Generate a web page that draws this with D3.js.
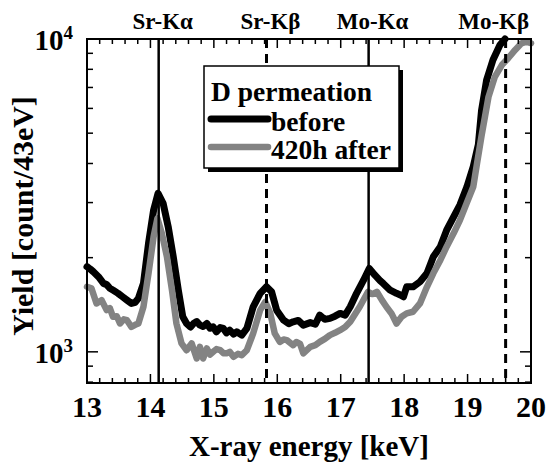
<!DOCTYPE html>
<html><head><meta charset="utf-8">
<script src="https://cdn.jsdelivr.net/npm/d3@7"></script>
<style>body{margin:0;background:#fff}svg{display:block}text{font-family:"Liberation Serif","Times New Roman",serif;font-weight:bold}</style>
</head><body>
<svg id="c" width="547" height="462"></svg>
<script>
// ---- data ----
const beforeE = [13.00,13.05,13.10,13.18,13.26,13.31,13.36,13.42,13.49,13.56,13.63,13.70,13.76,13.81,13.89,13.97,14.05,14.12,14.20,14.28,14.36,14.44,14.51,14.57,14.63,14.68,14.73,14.78,14.83,14.89,14.94,14.99,15.04,15.10,15.15,15.20,15.25,15.31,15.36,15.44,15.52,15.62,15.73,15.83,15.91,15.99,16.10,16.18,16.25,16.33,16.41,16.52,16.60,16.67,16.75,16.83,16.91,16.99,17.07,17.15,17.25,17.36,17.45,17.54,17.62,17.67,17.78,17.88,17.94,17.99,18.04,18.14,18.25,18.36,18.46,18.57,18.67,18.78,18.88,18.99,19.09,19.17,19.22,19.30,19.40,19.51,19.59];
const beforeV = [1871,1840,1803,1738,1655,1640,1596,1570,1538,1500,1463,1428,1440,1482,1655,2222,2838,3212,2984,2512,2013,1574,1294,1232,1200,1232,1250,1217,1205,1232,1190,1202,1159,1195,1188,1150,1173,1140,1159,1131,1188,1393,1538,1614,1556,1359,1262,1230,1247,1260,1217,1240,1225,1310,1270,1279,1300,1327,1310,1393,1538,1694,1848,1758,1690,1655,1574,1538,1520,1500,1614,1614,1675,1782,2013,2168,2449,2702,2950,3372,3909,4600,5900,7390,8570,9570,10000];
const afterE = [13.00,13.07,13.15,13.23,13.31,13.36,13.41,13.47,13.52,13.58,13.63,13.70,13.76,13.81,13.89,13.97,14.05,14.11,14.18,14.26,14.34,14.41,14.49,14.57,14.65,14.73,14.78,14.83,14.89,14.94,14.99,15.04,15.10,15.15,15.20,15.25,15.31,15.38,15.44,15.52,15.62,15.73,15.81,15.89,15.96,16.04,16.10,16.15,16.25,16.30,16.36,16.41,16.52,16.60,16.67,16.75,16.83,16.91,16.99,17.07,17.15,17.30,17.43,17.50,17.57,17.65,17.72,17.80,17.88,17.96,18.04,18.14,18.25,18.36,18.46,18.57,18.67,18.78,18.88,18.99,19.09,19.14,19.22,19.33,19.43,19.54,19.64,19.75,19.85,19.93,20.00];
const afterV = [1614,1596,1428,1463,1359,1380,1294,1300,1232,1270,1262,1202,1220,1232,1393,1782,2333,2672,2392,2013,1574,1232,1064,1012,1064,952,1037,952,1025,980,1000,1020,1012,990,989,1000,964,985,976,1012,1145,1359,1445,1327,1145,1076,1095,1090,1050,1075,1060,989,1037,1050,1076,1100,1131,1150,1173,1200,1247,1393,1556,1530,1556,1463,1393,1327,1232,1294,1327,1343,1428,1614,1782,1963,2168,2392,2637,3000,3372,3900,4900,6531,7568,8254,8676,9230,9690,9800,9690];
const lineNames = ["Sr-K\u03B1","Sr-K\u03B2","Mo-K\u03B1","Mo-K\u03B2"];
const lineE = [14.13,15.83,17.44,19.60];
const lineDashed = [false,true,false,true];
const xTicks = [13,14,15,16,17,18,19,20];
const yTicks = [1000,10000];
const seriesNames = ["before","420h after"];
const seriesColors = ["#000000","#838383"];

// ---- layout ----
const L=87,R=531,T=39,B=383;
const svg=d3.select("#c");
const x=d3.scaleLinear().domain([13,20]).range([L,R]);
const y=d3.scaleLog().domain([795,10000]).range([B,T]);

// curves
const line=d3.line().x(d=>x(d[0])).y(d=>y(d[1]));
const series=[d3.zip(beforeE,beforeV), d3.zip(afterE,afterV)];
series.forEach((s,i)=>{
  svg.append("path").datum(s).attr("d",line).attr("fill","none")
    .attr("stroke",seriesColors[i]).attr("stroke-width",i===0?7:6.5)
    .attr("stroke-linejoin","round").attr("stroke-linecap","round");
});

// reference lines
lineE.forEach((e,i)=>{
  svg.append("line").attr("x1",x(e)).attr("x2",x(e)).attr("y1",T).attr("y2",B)
    .attr("stroke","#000").attr("stroke-width",lineDashed[i]?3:2.5)
    .attr("stroke-dasharray",lineDashed[i]?"9,6":null);
  const lx = i===3 ? x(e)-12 : x(e)+4;
  svg.append("text").attr("x",lx).attr("y",29).attr("text-anchor","middle")
    .attr("font-size",23).text(lineNames[i]);
});

// frame & ticks
svg.append("rect").attr("x",L).attr("y",T).attr("width",R-L).attr("height",B-T)
  .attr("fill","none").attr("stroke","#000").attr("stroke-width",2);
const minorX=d3.range(13,20.001,0.2).filter(v=>Math.abs(v-Math.round(v))>1e-6);
const gAx=svg.append("g").attr("stroke","#000").attr("stroke-width",1.5);
xTicks.forEach(v=>{
  gAx.append("line").attr("x1",x(v)).attr("x2",x(v)).attr("y1",B).attr("y2",B-9);
  gAx.append("line").attr("x1",x(v)).attr("x2",x(v)).attr("y1",T).attr("y2",T+9);
});
minorX.forEach(v=>{
  gAx.append("line").attr("x1",x(v)).attr("x2",x(v)).attr("y1",B).attr("y2",B-5);
  gAx.append("line").attr("x1",x(v)).attr("x2",x(v)).attr("y1",T).attr("y2",T+5);
});
const minorY=[800,900,2000,3000,4000,5000,6000,7000,8000,9000];
yTicks.forEach(v=>{
  gAx.append("line").attr("x1",L).attr("x2",L+11).attr("y1",y(v)).attr("y2",y(v));
  gAx.append("line").attr("x1",R).attr("x2",R-11).attr("y1",y(v)).attr("y2",y(v));
});
minorY.forEach(v=>{
  gAx.append("line").attr("x1",L).attr("x2",L+6).attr("y1",y(v)).attr("y2",y(v));
  gAx.append("line").attr("x1",R).attr("x2",R-6).attr("y1",y(v)).attr("y2",y(v));
});

// tick labels
xTicks.forEach(v=>{
  svg.append("text").attr("x",x(v)).attr("y",417).attr("text-anchor","middle")
    .attr("font-size",30).text(v);
});
yTicks.forEach(v=>{
  const t=svg.append("text").attr("x",73).attr("y",y(v)+11).attr("text-anchor","end").attr("font-size",29);
  t.append("tspan").text("10");
  t.append("tspan").attr("font-size",19).attr("dy",-11).text(Math.round(Math.log10(v)));
});

// axis titles
svg.append("text").attr("x",(L+R)/2).attr("y",456).attr("text-anchor","middle")
  .attr("font-size",29).text("X-ray energy [keV]");
svg.append("text").attr("transform","translate(33,216) rotate(-90)").attr("text-anchor","middle")
  .attr("font-size",30).text("Yield [count/43eV]");

// legend
const lg=svg.append("g");
lg.append("rect").attr("x",208).attr("y",70).attr("width",195).attr("height",102).attr("fill","#000");
lg.append("rect").attr("x",204).attr("y",66).attr("width",195).attr("height",102)
  .attr("fill","#fff").attr("stroke","#000").attr("stroke-width",1.5);
lg.append("text").attr("x",211).attr("y",101).attr("font-size",27.5).text("D permeation");
seriesNames.forEach((n,i)=>{
  const yy=[119,147][i];
  lg.append("line").attr("x1",211).attr("x2",268).attr("y1",yy).attr("y2",yy)
    .attr("stroke",seriesColors[i]).attr("stroke-width",i===0?7:6.5).attr("stroke-linecap","round");
  lg.append("text").attr("x",271).attr("y",yy+12).attr("font-size",27.5).text(n);
});
</script>
</body></html>
